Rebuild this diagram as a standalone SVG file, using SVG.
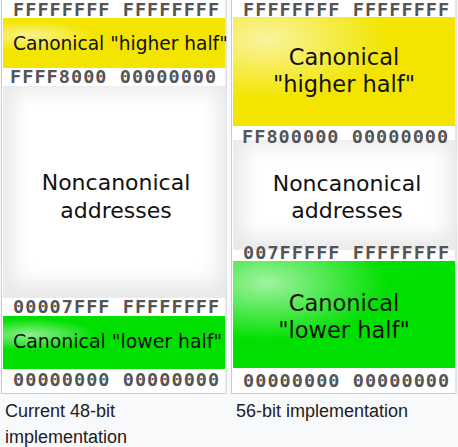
<svg xmlns="http://www.w3.org/2000/svg" width="458" height="447" viewBox="0 0 458 447">
<defs>
<style>
.hex{font-family:"DejaVu Sans Mono","Liberation Mono",monospace;font-weight:bold;font-size:18.5px;letter-spacing:1.05px;fill:#555555}
.lbl{font-family:"DejaVu Sans","Noto Sans",sans-serif;fill:#111111}
.cap{font-family:"Liberation Sans",Arial,sans-serif;font-size:18px;fill:#202122}
.frame{fill:#ffffff;stroke:#c8ccd1;stroke-width:1}
</style>
<radialGradient id="yL" cx="0.12" cy="0.35" r="0.3">
<stop offset="0" stop-color="#f9f290"/><stop offset="1" stop-color="#f3e500"/></radialGradient>
<radialGradient id="yR" cx="0.15" cy="0.2" r="0.55">
<stop offset="0" stop-color="#f9f4a0"/><stop offset="1" stop-color="#f3e500"/></radialGradient>
<radialGradient id="gL" cx="0.12" cy="0.35" r="0.3">
<stop offset="0" stop-color="#8ef08e"/><stop offset="1" stop-color="#00df00"/></radialGradient>
<radialGradient id="gR" cx="0.15" cy="0.2" r="0.55">
<stop offset="0" stop-color="#a0f3a0"/><stop offset="1" stop-color="#00df00"/></radialGradient>
<filter id="soft" x="-20%" y="-20%" width="140%" height="140%"><feGaussianBlur stdDeviation="9"/></filter>
</defs>
<rect width="458" height="447" fill="#f8f9fa"/>

<g id="panel-48">
<rect class="frame" x="1.5" y="-2" width="224.5" height="395.5"/>
<rect x="3" y="86" width="222" height="212" fill="#e9e9e9"/>
<rect x="14" y="92" width="204" height="190" fill="#ffffff" filter="url(#soft)"/>
<text class="hex" x="13" y="16">FFFFFFFF FFFFFFFF</text>
<text class="hex" x="10" y="83">FFFF8000 00000000</text>
<text class="hex" x="13" y="313">00007FFF FFFFFFFF</text>
<text class="hex" x="13" y="386">00000000 00000000</text>
</g>
<g id="higher-48">
<rect x="3" y="18" width="222" height="50" fill="url(#yL)"/>
<text class="lbl" x="13" y="50" font-size="18.6">Canonical "higher half"</text>
</g>
<g id="noncanonical-48">
<text class="lbl" x="116" y="190" font-size="22" text-anchor="middle">Noncanonical</text>
<text class="lbl" x="116" y="218" font-size="22" text-anchor="middle">addresses</text>
</g>
<g id="lower-48">
<rect x="3" y="316" width="222" height="53" fill="url(#gL)"/>
<text class="lbl" x="13" y="348" font-size="18.9">Canonical "lower half"</text>
</g>

<g id="panel-56">
<rect class="frame" x="231.5" y="-2" width="224.5" height="395.5"/>
<rect x="233" y="140" width="222" height="110" fill="#e9e9e9"/>
<rect x="244" y="146" width="204" height="90" fill="#ffffff" filter="url(#soft)"/>
<text class="hex" x="243" y="16">FFFFFFFF FFFFFFFF</text>
<text class="hex" x="242" y="143">FF800000 00000000</text>
<text class="hex" x="243" y="259">007FFFFF FFFFFFFF</text>
<text class="hex" x="243" y="387">00000000 00000000</text>
</g>
<g id="higher-56">
<rect x="233" y="17" width="222" height="109" fill="url(#yR)"/>
<text class="lbl" x="344" y="65" font-size="22.5" text-anchor="middle">Canonical</text>
<text class="lbl" x="344" y="92" font-size="22.5" text-anchor="middle">"higher half"</text>
</g>
<g id="noncanonical-56">
<text class="lbl" x="347" y="191" font-size="22" text-anchor="middle">Noncanonical</text>
<text class="lbl" x="347" y="218" font-size="22" text-anchor="middle">addresses</text>
</g>
<g id="lower-56">
<rect x="233" y="261" width="222" height="107" fill="url(#gR)"/>
<text class="lbl" x="344" y="311" font-size="22.5" text-anchor="middle">Canonical</text>
<text class="lbl" x="344" y="338" font-size="22.5" text-anchor="middle">"lower half"</text>
</g>

<g id="connectors"></g>

<g id="captions">
<text class="cap" x="5" y="417">Current 48-bit</text>
<text class="cap" x="5" y="443">implementation</text>
<text class="cap" x="236" y="417">56-bit implementation</text>
</g>
</svg>
